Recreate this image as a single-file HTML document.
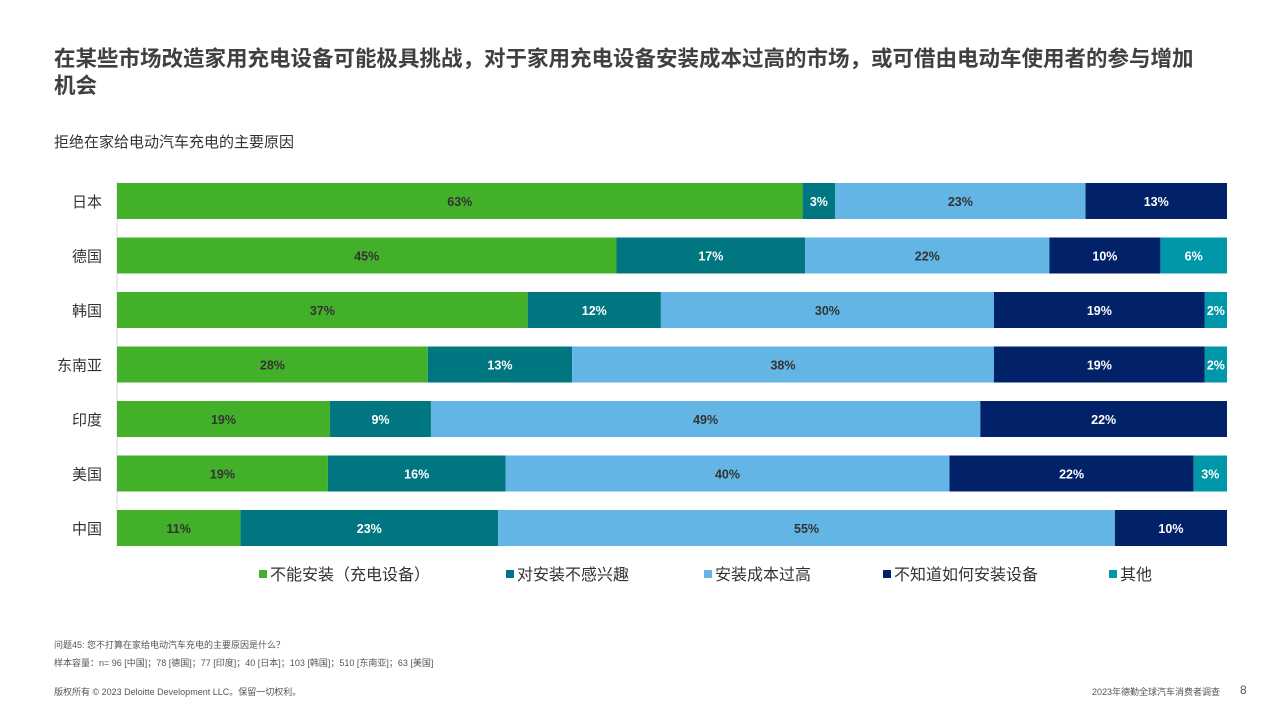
<!DOCTYPE html>
<html><head><meta charset="utf-8"><style>
body{margin:0;width:1280px;height:720px;background:#fff;position:relative;overflow:hidden;font-family:"Liberation Sans","Noto Sans CJK SC",sans-serif;color:#404040}
.abs{position:absolute;white-space:nowrap}
</style></head><body>
<div class="abs" style="left:54px;top:46px;font-size:21.5px;font-weight:bold;line-height:27px">在某些市场改造家用充电设备可能极具挑战，对于家用充电设备安装成本过高的市场，或可借由电动车使用者的参与增加<br>机会</div>
<div class="abs" style="left:54px;top:131px;font-size:15px;color:#333">拒绝在家给电动汽车充电的主要原因</div>
<svg id="chart" width="1280" height="600" style="position:absolute;left:0;top:0"></svg>
<div class="abs" style="left:54px;top:638px;font-size:9px;color:#555">问题45: 您不打算在家给电动汽车充电的主要原因是什么？</div>
<div class="abs" style="left:54px;top:656px;font-size:9px;color:#555">样本容量：n= 96 [中国]；78 [德国]；77 [印度]；40 [日本]；103 [韩国]；510 [东南亚]；63 [美国]</div>
<div class="abs" style="left:54px;top:685px;font-size:9px;color:#555">版权所有 © 2023 Deloitte Development LLC。保留一切权利。</div>
<div class="abs" style="left:1092px;top:685px;font-size:9px;color:#555">2023年德勤全球汽车消费者调查</div>
<div class="abs" style="left:1240px;top:683px;font-size:12px;color:#555">8</div>
<script>
const categories=["日本","德国","韩国","东南亚","印度","美国","中国"];
const seriesNames=["不能安装（充电设备）","对安装不感兴趣","安装成本过高","不知道如何安装设备","其他"];
const cannotInstall=[63,45,37,28,19,19,11];
const notInterested=[3,17,12,13,9,16,23];
const tooExpensive=[23,22,30,38,49,40,55];
const dontKnow=[13,10,19,19,22,22,10];
const other=[0,6,2,2,0,3,0];
const colors=["#43B02A","#007680","#62B5E5","#012169","#0097A9"];
const textColors=["#333","#fff","#333","#fff","#fff"];
const series=[cannotInstall,notInterested,tooExpensive,dontKnow,other];
const svg=document.getElementById('chart');
const NS="http://www.w3.org/2000/svg";
const x0=117,x1=1227,yTop=183,rowH=54.5,barH=36;
function xs(frac){return x0+frac*(x1-x0);}
function yc(i){return yTop+rowH*i+barH/2;}
function mk(tag,attrs){const e=document.createElementNS(NS,tag);for(const k in attrs)e.setAttribute(k,attrs[k]);svg.appendChild(e);return e;}
const axis=mk('line',{x1:x0,x2:x0,y1:yTop-2,y2:yTop+rowH*6+barH+2,stroke:'#d9d9d9'});


categories.forEach((c,i)=>{
  const t=mk('text',{x:102,y:yc(i)+6,'text-anchor':'end','font-size':15,fill:'#333'});
  t.textContent=c;
  
  
  let total=0;series.forEach(s=>total+=s[i]);
  let acc=0;
  series.forEach((s,k)=>{
    const v=s[i];if(!v)return;
    const xa=xs(acc/total),xb=xs((acc+v)/total);acc+=v;
    const r=mk('rect',{x:xa,y:yc(i)-barH/2,width:xb-xa,height:barH,fill:colors[k]});
    
    
    const l=mk('text',{x:(xa+xb)/2,y:yc(i)+5,'text-anchor':'middle','font-size':12.5,'font-weight':'bold',fill:textColors[k]});
    l.textContent=v+'%';
    
    
  });
});
const legX=[259,506,704,883,1109];
seriesNames.forEach((n,k)=>{
  const r=mk('rect',{x:legX[k],y:570,width:8,height:8,fill:colors[k]});
  
  
  const t=mk('text',{x:legX[k]+11,y:580,'font-size':16,fill:'#333'});
  t.textContent=n;
  
  
});
</script>
</body></html>
